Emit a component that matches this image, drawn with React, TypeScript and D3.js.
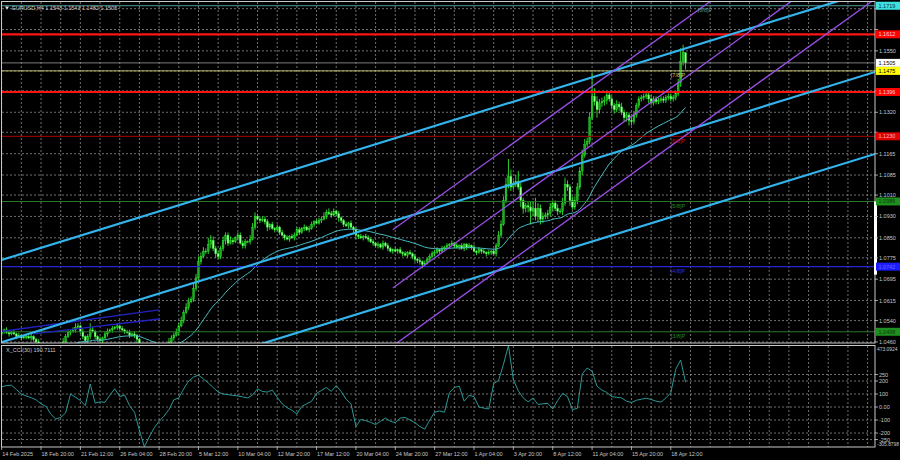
import React from 'react'
import * as d3 from 'd3'

// EURUSD H4 closes, pips above 1.0000 (bar 0 = 14 Feb 00:00)
const closePips = [
  490, 500, 505, 495, 490, 495,
  490, 480, 485, 475, 480, 480,
  475, 480, 470, 460, 450, 445,
  450, 440, 430, 425, 420, 425,
  430, 445, 460, 480, 495, 500,
  505, 515, 520, 500, 480, 465,
  480, 505, 500, 480, 470, 465,
  475, 490, 500, 505, 510, 515,
  520, 510, 505, 500, 495, 485,
  490, 485, 470, 440, 420, 400,
  405, 400, 390, 395, 380, 375,
  385, 400, 430, 460, 475, 485,
  495, 520, 540, 570, 590, 610,
  620, 660, 700, 760, 780, 800,
  800, 825, 840, 810, 790, 780,
  810, 840, 860, 830, 840, 835,
  850, 860, 830, 820, 835, 835,
  845, 890, 930, 920, 915, 920,
  910, 890, 900, 885, 880, 890,
  870, 860, 850, 845, 855, 850,
  860, 880, 870, 885, 890, 880,
  885, 900, 910, 905, 915, 920,
  930, 945, 940, 935, 950, 940,
  925, 915, 900, 895, 905, 890,
  880, 860, 855, 850, 855, 850,
  845, 835, 830, 820, 825, 815,
  830, 820, 810, 800, 805, 800,
  805, 795, 790, 785, 795, 790,
  780, 770, 765, 760, 750, 755,
  770, 780, 790, 795, 805, 800,
  810, 815, 820, 825, 830, 820,
  815, 820, 810, 825, 815, 820,
  815, 800, 795, 805, 800, 795,
  790, 795, 800, 790, 820, 860,
  900, 990, 1050, 1080, 1040, 1050,
  1060, 1040, 990, 960, 970, 965,
  950, 960, 930, 960, 920, 930,
  935, 940, 965, 980, 960, 950,
  950, 980, 1050, 1040, 990, 965,
  990, 1040, 1100, 1160, 1200, 1210,
  1300, 1380, 1360, 1330, 1355, 1360,
  1365, 1385, 1370, 1345, 1330, 1350,
  1340, 1320, 1300, 1310, 1290, 1285,
  1310, 1345, 1370, 1375, 1380, 1385,
  1370, 1355, 1370, 1360, 1365, 1370,
  1365, 1375, 1380, 1370, 1375, 1390,
  1430, 1510, 1543, 1505,
]
const firstOpen = 1.0485

// wick lengths above / below the body, base-36 digits in units of 5 pips
const wickUp = [
  '2212112121', '1212112121', '1122123221', '2321212521', '1212212121',
  '2112121111', '1212121223', '2232323324', '3433254322', '2322321222',
  '2133322222', '1212121212', '2221212212', '2232322121', '1212121212',
  '2121212121', '1212121212', '1212122221', '2121212121', '1212121212',
  '1223335d53', '5832234584', '3323322324', '5323333443', '4i64333232',
  '2323222332', '2222232222', '2222223a60',
].join('')
const wickDn = [
  '2121211212', '1212212121', '2212121212', '1212232212', '2121212121',
  '1212124343', '3232321212', '1212121212', '2121223232', '2232121212',
  '2121212123', '2121212121', '2121212121', '1212121232', '2121232121',
  '2121212121', '2121212122', '2232121212', '1212121212', '2121212121',
  '2121212332', '225434a434', '4323232323', '2342232322', '2236333323',
  '3232334322', '2222322222', '2222222335',
].join('')

// smoothed moving average (alpha 1/20), starting level below the window
const maSeed = 1.0395
const maAlpha = 1 / 20

// X_CCI(30) at bars 1, 3, 5 ... 279
const cciOdd = [
  156, 165, 168, 135, 100, 85, 72, 55, 25, 5,
  -55, -92, -80, -45, 100, 75, 50, 10, 177, 30,
  40, 36, 92, 140, 80, 92, 10, -40, -180, -305,
  -230, -160, -110, -70, -20, 56, 70, 140, 200, 230,
  246, 215, 185, 150, 115, 100, 95, 90, 85, 78,
  70, 92, 140, 120, 115, 130, 75, 25, -5, -25,
  -54, 5, 25, 45, 105, 128, 150, 120, 165, 120,
  60, 25, -150, -95, -105, -118, -135, -110, -85, -110,
  -120, -85, -80, -100, -120, -150, -170, -100, -40, -30,
  -40, 110, 150, 160, 45, 90, 80, 0, -8, -15,
  180, 205, 330, 473, 210, 125, 70, 40, 69, 20,
  25, 28, -15, 50, 105, 80, -20, -10, 255, 300,
  275, 160, 130, 112, 80, 75, 70, 45, 35, 52,
  60, 68, 58, 45, 38, 70, 110, 290, 362, 190.71,
]
const cciTicks = [250, 200, 100, 0, -100, -200, -250]
const cciMax = 473.0924
const cciMin = -305.8798

const priceTicks = [
  1.0460, 1.0540, 1.0615, 1.0695, 1.0775, 1.0850, 1.0930, 1.1010, 1.1085,
  1.1165, 1.1245, 1.1320, 1.1400, 1.1475, 1.1550, 1.1630, 1.1708,
]

const timeLabels = [
  '14 Feb 2025', '18 Feb 20:00', '21 Feb 12:00', '26 Feb 04:00', '28 Feb 20:00',
  '5 Mar 12:00', '10 Mar 04:00', '12 Mar 20:00', '17 Mar 12:00', '20 Mar 04:00',
  '24 Mar 20:00', '27 Mar 12:00', '1 Apr 04:00', '3 Apr 20:00', '8 Apr 12:00',
  '11 Apr 04:00', '15 Apr 20:00', '18 Apr 12:00',
]
const timeBars = [1, 17, 33, 49, 65, 81, 97, 113, 129, 145, 161, 177, 193, 209, 225, 241, 257, 273]

// horizontal levels and their price tags
const levelPrices = [1.1719, 1.1612, 1.1505, 1.1475, 1.1396, 1.1230, 1.0986, 1.0742, 1.0498]
const levelTags = ['1.1719', '1.1612', '1.1505', '1.1475', '1.1396', '1.1230', '1.0986', '1.0742', '1.0498']
const murrayNames = ['[8/8]P', '[7/8]P', '[6/8]P', '[5/8]P', '[4/8]P', '[3/8]P']
const murrayPrices = [1.1719, 1.1475, 1.1230, 1.0986, 1.0742, 1.0498]
const octaveMarker = [1.0986, 1.0712]

// trend channels: [bar, price] end points
const cyanBars = [0, 356]
const cyanStart = [1.0764, 1.0456, 1.0149]
const cyanEnd = [1.1779, 1.1471, 1.1164]
const purpleBars = [160, 356]
const purpleStart = [1.0880, 1.0662, 1.0445]
const purpleEnd = [1.2179, 1.1961, 1.1744]
const navyBars = [[0, 65], [14, 65]]
const navyPrices = [[1.0498, 1.0580], [1.0490, 1.0546]]

const xs = d3.scaleLinear().domain([0, 356]).range([-0.8, 875])
const ys = d3.scaleLinear().domain([1.0456, 1.1733]).range([343, 2])
const yc = d3.scaleLinear().domain([cciMin, cciMax]).range([446.8, 345.5])

const levelStyle = [
  { stroke: '#4f9a9a', w: 1, box: '#3fe0e0', ink: '#0a3050' },
  { stroke: '#ff1414', w: 2.2, box: '#ff0000', ink: '#ffd8d8' },
  { stroke: '#9a9a9a', w: 0.8, box: '#ffffff', ink: '#000000' },
  { stroke: '#cfcf78', w: 0.9, box: '#ffff00', ink: '#000000' },
  { stroke: '#ff1414', w: 2.2, box: '#ff0000', ink: '#ffd8d8' },
  { stroke: '#b00000', w: 1, box: '#e00000', ink: '#ffb8b8' },
  { stroke: '#2a7a2a', w: 1, box: '#1f8f1f', ink: '#0a3a0a' },
  { stroke: '#2626d8', w: 1.4, box: '#1c1cff', ink: '#6a6aff' },
  { stroke: '#2a7a2a', w: 1, box: '#1f8f1f', ink: '#0a3a0a' },
]
const murrayColor = ['#4f9a9a', '#d0d070', '#c01010', '#2a8a2a', '#3030e0', '#2a8a2a']

const font = { fontFamily: '"Liberation Sans", Arial, sans-serif', fontSize: 5.5 }
const small = { fontFamily: '"Liberation Sans", Arial, sans-serif', fontSize: 4.9 }
const txt = '#c8c8c8'

export default function App() {
  const bars = closePips.map((c, i) => {
    const close = 1 + c / 10000
    const open = i === 0 ? firstOpen : 1 + closePips[i - 1] / 10000
    const high = Math.max(open, close) + parseInt(wickUp[i], 36) * 0.0005
    const low = Math.min(open, close) - parseInt(wickDn[i], 36) * 0.0005
    return { i, open, close, high, low }
  })

  const ma: number[] = []
  bars.forEach((b, i) => {
    const prev = i === 0 ? maSeed : ma[i - 1]
    ma.push(prev + maAlpha * (b.close - prev))
  })

  const maLine = d3.line<number>().x((_, i) => xs(i)).y(d => ys(d))
  const cciLine = d3.line<number>().x((_, k) => xs(2 * k + 1)).y(d => yc(d))
  const gridBars = d3.range(1, 357, 8)

  // tick labels sitting under a level tag are hidden by it, as in the terminal
  const freeTicks = priceTicks.filter(p => levelPrices.every(l => Math.abs(ys(l) - ys(p)) > 5.5))

  return (
    <svg width={900} height={460} style={{ position: 'fixed', left: 0, top: 0, background: '#000' }}>
      <defs>
        <clipPath id="mainClip"><rect x={1.5} y={1.5} width={873.5} height={341.5} /></clipPath>
        <clipPath id="cciClip"><rect x={1.5} y={345.5} width={873.5} height={101.5} /></clipPath>
      </defs>
      <rect x={0} y={0} width={900} height={460} fill="#000" />

      {/* grid */}
      <g stroke="#8a8a8a" strokeWidth={0.8} strokeDasharray="2,2">
        {gridBars.map(b => (
          <line key={'v' + b} x1={xs(b)} x2={xs(b)} y1={2} y2={343} />
        ))}
        {gridBars.map(b => (
          <line key={'vc' + b} x1={xs(b)} x2={xs(b)} y1={346} y2={447} />
        ))}
        {priceTicks.map(p => (
          <line key={'h' + p} x1={2} x2={875} y1={ys(p)} y2={ys(p)} />
        ))}
        {cciTicks.map(v => (
          <line key={'c' + v} x1={2} x2={875} y1={yc(v)} y2={yc(v)} />
        ))}
      </g>

      <g clipPath="url(#mainClip)">
        {/* candles */}
        {bars.map(b => {
          const x = xs(b.i)
          const top = ys(Math.max(b.open, b.close))
          const bot = ys(Math.min(b.open, b.close))
          const bull = b.close >= b.open
          return (
            <g key={b.i}>
              <line x1={x} x2={x} y1={ys(b.high)} y2={ys(b.low)} stroke="#2ee82e" strokeWidth={0.9} />
              <rect x={x - 0.9} y={top} width={1.8} height={Math.max(0.8, bot - top)}
                fill={bull ? '#1faa1f' : '#9dff9d'} stroke="#33ff33" strokeWidth={0.35} />
            </g>
          )
        })}

        {/* moving average */}
        <path d={maLine(ma) ?? ''} fill="none" stroke="#48bcc4" strokeWidth={1} />

        {/* horizontal levels */}
        {levelPrices.map((p, k) => (
          <line key={'l' + p} x1={2} x2={875} y1={ys(p)} y2={ys(p)}
            stroke={levelStyle[k].stroke} strokeWidth={levelStyle[k].w} />
        ))}

        {/* navy lines */}
        {navyBars.map((bb, k) => (
          <line key={'n' + k} x1={xs(bb[0])} x2={xs(bb[1])} y1={ys(navyPrices[k][0])} y2={ys(navyPrices[k][1])}
            stroke="#2222c0" strokeWidth={1.4} />
        ))}

        {/* cyan channel */}
        {cyanStart.map((p, k) => (
          <line key={'cy' + k} x1={xs(cyanBars[0])} x2={xs(cyanBars[1])} y1={ys(p)} y2={ys(cyanEnd[k])}
            stroke="#33b4ec" strokeWidth={2.2} />
        ))}

        {/* purple channel */}
        {purpleStart.map((p, k) => (
          <line key={'pu' + k} x1={xs(purpleBars[0])} x2={xs(purpleBars[1])} y1={ys(p)} y2={ys(purpleEnd[k])}
            stroke="#9a4ee6" strokeWidth={1.3} />
        ))}

        {/* murray labels */}
        {murrayNames.map((n, k) => (
          <text key={n} x={k === 0 ? xs(284) : xs(273)} y={ys(murrayPrices[k]) + 6.5}
            fill={murrayColor[k]} {...font}>{n}</text>
        ))}
      </g>

      {/* CCI */}
      <g clipPath="url(#cciClip)">
        <path d={cciLine(cciOdd) ?? ''} fill="none" stroke="#2fa7a7" strokeWidth={0.9} />
      </g>

      {/* frames */}
      <rect x={1.5} y={1.5} width={873.5} height={341.5} fill="none" stroke="#c8c8c8" strokeWidth={1} />
      <rect x={1.5} y={345.5} width={873.5} height={101.5} fill="none" stroke="#c8c8c8" strokeWidth={1} />
      <rect x={874} y={ys(octaveMarker[0])} width={3} height={ys(octaveMarker[1]) - ys(octaveMarker[0])} fill="#ffffff" />

      {/* header */}
      <path d="M5,6.5 L9,6.5 L7,9.5 Z" fill="#e0e0e0" />
      <text x={12} y={9.5} fill={txt} {...font}>EURUSD,H4  1.1543 1.1543 1.1482 1.1505</text>
      <text x={6} y={352} fill={txt} {...font}>X_CCI(30) 190.7111</text>

      {/* right price axis */}
      {priceTicks.map(p => (
        <line key={'pm' + p} x1={875} x2={878} y1={ys(p)} y2={ys(p)} stroke="#c8c8c8" strokeWidth={0.8} />
      ))}
      {freeTicks.map(p => (
        <text key={'pt' + p} x={879} y={ys(p) + 2} fill={txt} {...font}>{p.toFixed(4)}</text>
      ))}
      {levelPrices.map((p, k) => (
        <g key={'tag' + p}>
          <rect x={876} y={ys(p) - 4} width={24} height={8} fill={levelStyle[k].box} />
          <text x={878.5} y={ys(p) + 2} fill={levelStyle[k].ink} {...font}>{levelTags[k]}</text>
        </g>
      ))}

      {/* right CCI axis */}
      <text x={877} y={yc(cciMax) + 5} fill={txt} {...small}>{cciMax.toFixed(4)}</text>
      {cciTicks.map(v => (
        <g key={'ct' + v}>
          <line x1={875} x2={878} y1={yc(v)} y2={yc(v)} stroke="#c8c8c8" strokeWidth={0.8} />
          <text x={879} y={yc(v) + 2} fill={txt} {...font}>{v === 0 ? '0.00' : v}</text>
        </g>
      ))}
      <text x={877} y={yc(cciMin) - 0.5} fill={txt} {...small}>{cciMin.toFixed(4)}</text>

      {/* time axis */}
      {timeBars.map((b, k) => (
        <g key={'tb' + b}>
          <line x1={xs(b)} x2={xs(b)} y1={447} y2={450} stroke="#c8c8c8" strokeWidth={0.8} />
          <text x={xs(b) + 0.5} y={455.5} fill={txt} {...font}>{timeLabels[k]}</text>
        </g>
      ))}
    </svg>
  )
}
